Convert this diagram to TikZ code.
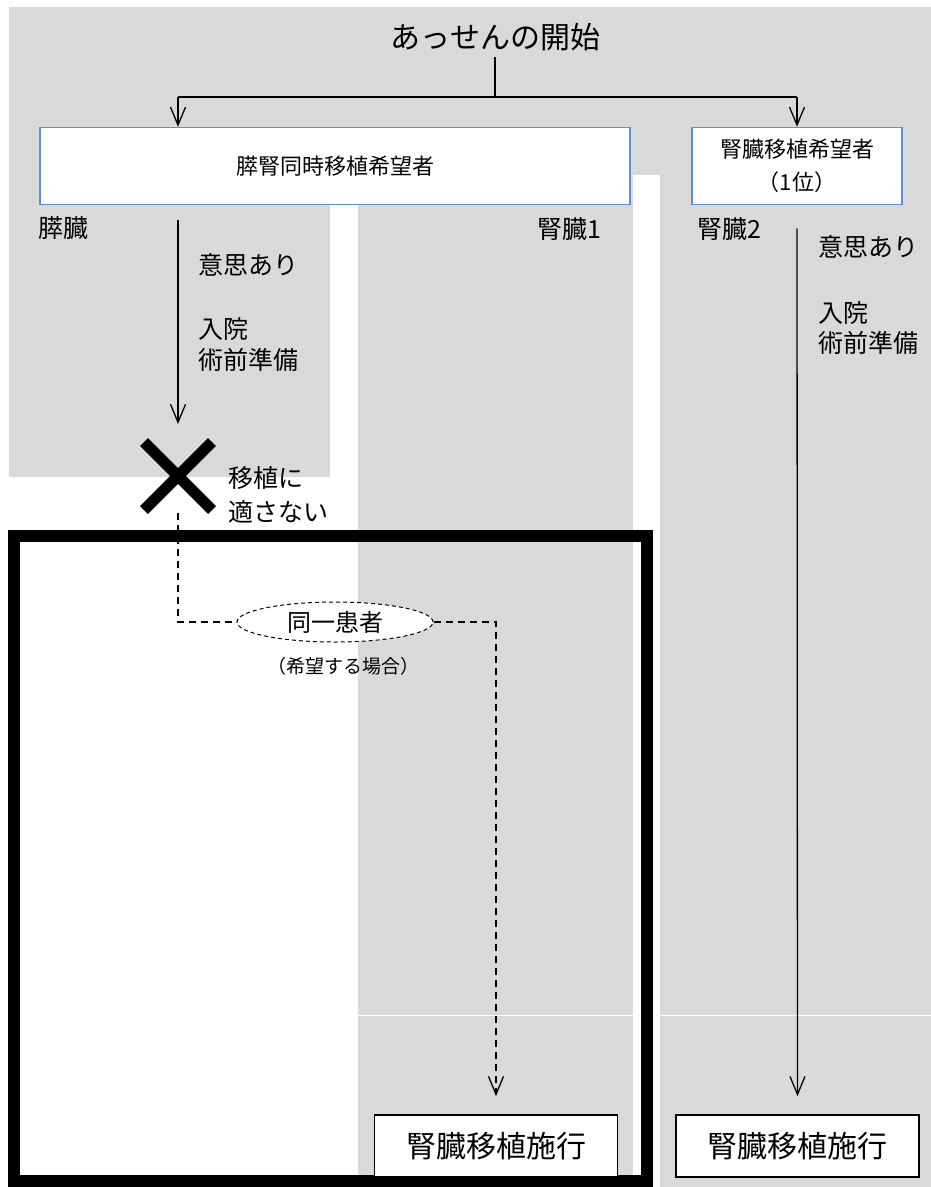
\documentclass[tikz,border=0pt]{standalone}
\usepackage{fontspec}
\setmainfont{Noto Sans CJK JP}
\usepackage{xcolor}
\usepackage{tikz}
\usetikzlibrary{arrows.meta}
\usetikzlibrary{shapes.geometric,shapes.misc}
\usetikzlibrary{positioning}
\definecolor{panelgray}{HTML}{D9D9D9}
\definecolor{boxblue}{HTML}{5B8FD6}

\begin{document}
\begin{tikzpicture}[x=1pt,y=-1pt,
    arr/.style={draw,line width=1.3pt,-{Straight Barb[length=18pt,width=15pt,line width=1.3pt]}},
    dashline/.style={draw,line width=1.3pt,dash pattern=on 7pt off 5pt},
    wish/.style={draw=boxblue,line width=1.5pt,fill=white,inner sep=0pt,minimum height=77pt},
    done/.style={draw,line width=1.8pt,fill=white,minimum width=243pt,minimum height=62pt,inner sep=0pt,font=\fontsize{30}{36}\selectfont},
    lab/.style={anchor=west,inner sep=0pt,align=left,font=\fontsize{25}{31}\selectfont}]
  \useasboundingbox (0,0) rectangle (931,1187);
  % gray panels
  \fill[panelgray] (9,7) rectangle (931,175);
  \fill[panelgray] (9,175) rectangle (633,205);
  \fill[panelgray] (660,175) rectangle (931,1187);
  \fill[panelgray] (9,205) rectangle (330,477);
  \fill[panelgray] (358,205) rectangle (633,1180);
  \draw[white,line width=1pt] (358,1015) -- (633,1015);
  \draw[white,line width=1pt] (660,1015) -- (931,1015);
  \draw[line width=12pt] (14,536) rectangle (647,1181);

  \node[font=\fontsize{30}{36}\selectfont] (start) at (495,37) {あっせんの開始};
  \node[wish,minimum width=590pt,font=\fontsize{22}{26}\selectfont] (pkwish) at (335,166) {膵腎同時移植希望者};
  \node[wish,minimum width=210pt,align=center,font=\fontsize{22}{33}\selectfont] (kwish) at (797,166) {腎臓移植希望者\\（1位）};
  \coordinate (split) at (495,97);
  \coordinate (splitL) at (178,97);
  \coordinate (splitR) at (797,97);
  \draw[line width=1.3pt,shorten <=3pt] (start.south) -- (split);
  \draw[line width=1.3pt] (splitL) -- (splitR);
  \draw[arr] (splitL) -- (splitL |- pkwish.north);
  \draw[arr] (splitR) -- (kwish.north);

  \node[lab] (pancreas) at (38,228) {膵臓};
  \node[lab] (kidney1) at (537,229) {腎臓1};
  \node[lab] (kidney2) at (697,229) {腎臓2};

  \node[cross out,draw,line width=11pt,minimum size=57pt,inner sep=0pt] (ng) at (178,476) {};
  \draw[arr,shorten <=15pt,shorten >=18pt] (pkwish.south -| ng) -- (ng.north);
  \node[lab] (willL) at (198,265) {意思あり};
  \node[lab] (prepL) at (198,344.5) {入院\\術前準備};
  \node[lab,font=\fontsize{25}{34}\selectfont] (unfit) at (228,495) {移植に\\適さない};

  \node[lab] (willR) at (818,247) {意思あり};
  \node[lab,font=\fontsize{25}{30}\selectfont] (prepR) at (818,328) {入院\\術前準備};

  \node[ellipse,draw,line width=1pt,dash pattern=on 4pt off 3pt,fill=white,minimum width=196pt,minimum height=40pt,inner sep=0pt,font=\fontsize{24}{28}\selectfont] (same) at (335,622) {同一患者};
  \node[font=\fontsize{19}{22}\selectfont] (ifwish) at (343,666) {（希望する場合）};

  \node[done] (done1) at (496,1146) {腎臓移植施行};
  \node[done] (done2) at (797.5,1146) {腎臓移植施行};

  \draw[dashline,shorten <=3pt] (ng.south) |- (same.west);
  \draw[dashline,-{Straight Barb[length=18pt,width=15pt,line width=1.3pt]},shorten >=18pt] (same.east) -| (done1.north);
  \draw[arr,shorten <=23pt,shorten >=18pt] (kwish.south) -- (done2.north);
\end{tikzpicture}
\end{document}
